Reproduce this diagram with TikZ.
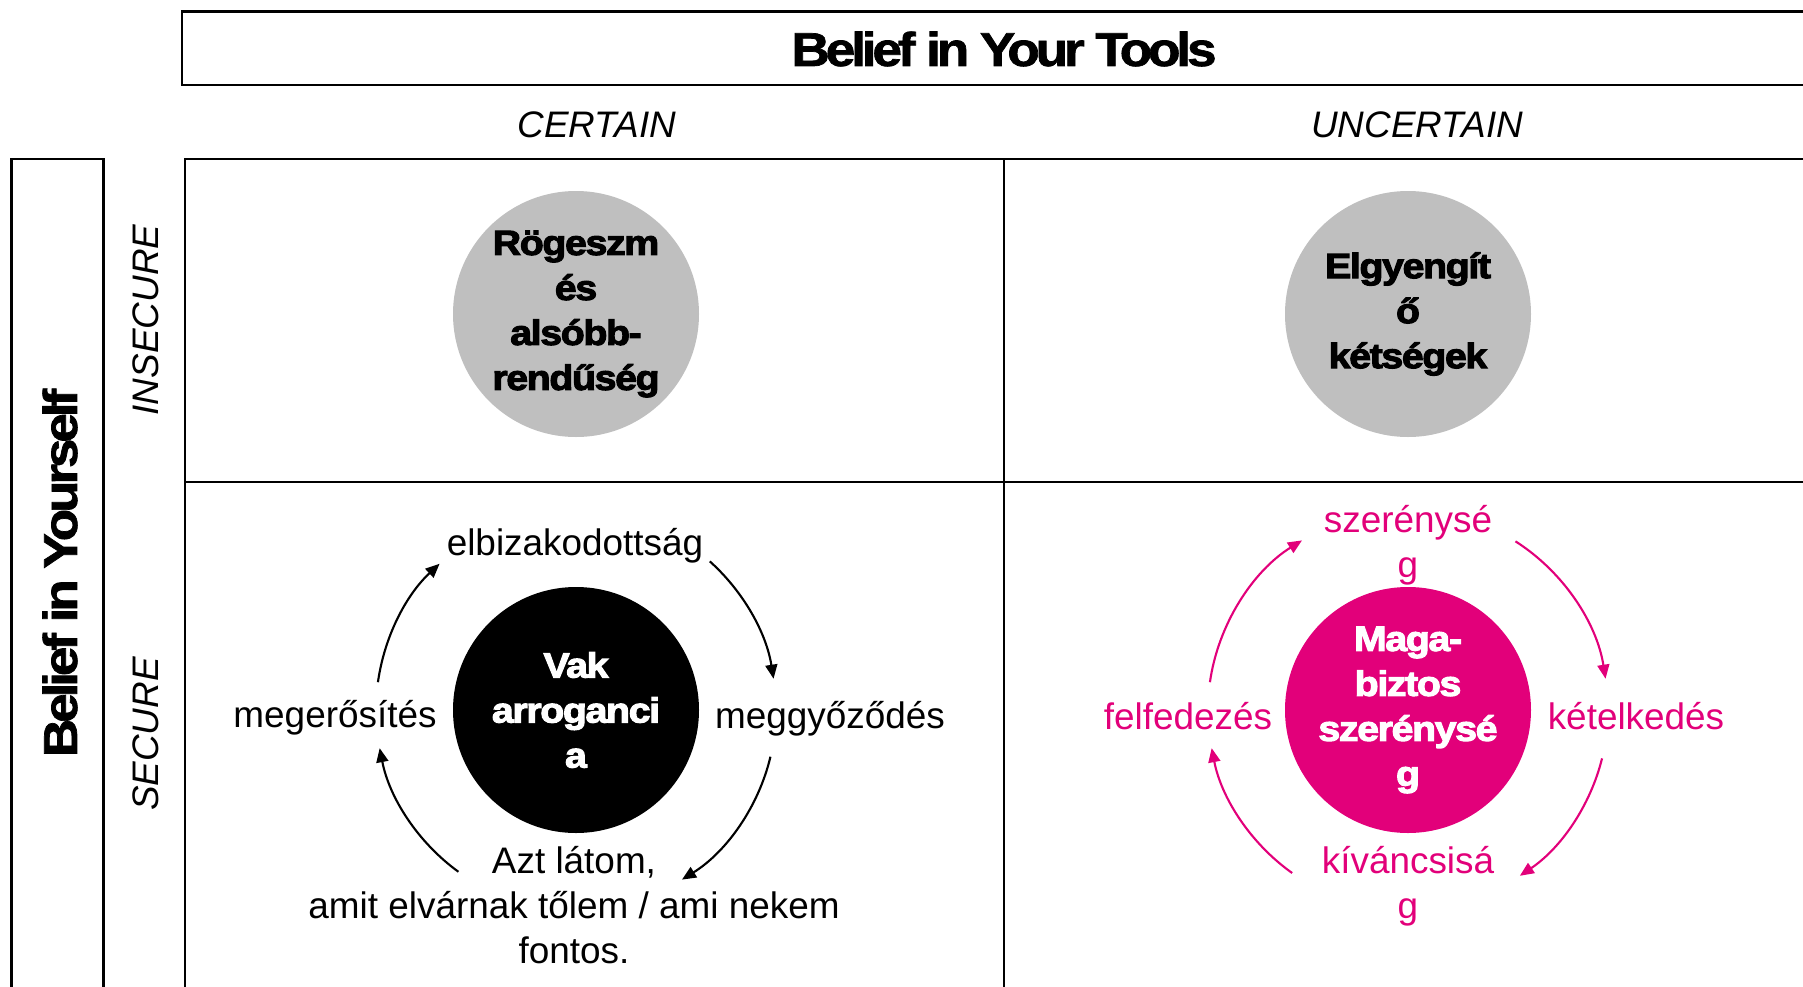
\documentclass[tikz,border=0pt]{standalone}
\usepackage{fontspec}
\setmainfont{Liberation Sans}
\newfontfamily\heavyfont[FakeStretch=1.12,FakeBold=3,LetterSpace=-4]{Liberation Sans Bold}
\newfontfamily\titlefont[FakeStretch=1.12,FakeBold=1.5,LetterSpace=-8.7]{Liberation Sans Bold}
\usetikzlibrary{arrows.meta,calc}
\definecolor{tmagenta}{RGB}{226,0,122}
\definecolor{discgray}{RGB}{191,191,191}

\begin{document}
\begin{tikzpicture}[line width=0.7pt,
    lbl/.style={font=\fontsize{10.5}{12.8}\selectfont,align=center,inner sep=0pt},
    axis/.style={font=\fontsize{10.5}{12.8}\selectfont\itshape,inner sep=0pt},
    head/.style={font=\titlefont\fontsize{13.5}{16}\selectfont,inner sep=0pt},
    disc/.style={circle,minimum size=2.46cm,inner sep=0pt,align=center,font=\heavyfont\fontsize{10}{12.8}\selectfont},
    cyc/.style={-{Triangle[length=4pt,width=3.4pt]},line width=0.6pt,looseness=0.88}]
    \useasboundingbox (0,0) rectangle (18.03,9.86);
    % frames
    \draw (1.82,9.01) rectangle (18.2,9.745);
    \draw (0.115,-0.1) rectangle (1.035,8.27);
    \draw (1.85,-0.1) -- (1.85,8.27) -- (18.2,8.27);
    \draw (10.04,-0.1) -- (10.04,8.27);
    \draw (1.85,5.04) -- (18.2,5.04);
    \node[head] (tools) at (10.04,9.37) {Belief in Your Tools};
    \node[head,rotate=90] (self) at (0.60,4.13) {Belief in Yourself};
    \node[axis] (cert) at (5.97,8.61) {CERTAIN};
    \node[axis] (uncert) at (14.17,8.61) {UNCERTAIN};
    \node[axis,rotate=90] (insec) at (1.46,6.66) {INSECURE};
    \node[axis,rotate=90] (sec) at (1.46,2.52) {SECURE};
    % circles
    \node[disc,fill=discgray] (rog) at (5.76,6.72) {Rögeszm\\és\\alsóbb-\\rendűség};
    \node[disc,fill=discgray] (elgy) at (14.08,6.72) {Elgyengít\\ő\\kétségek};
    \node[disc,fill=black,text=white] (vak) at (5.76,2.76) {Vak\\arroganci\\a};
    \node[disc,fill=tmagenta,text=white] (maga) at (14.08,2.76) {Maga-\\biztos\\szerénysé\\g};
    % left cycle
    \node[lbl] (elbiz) at (5.75,4.40) {elbizakodottság};
    \node[lbl] (meggy) at (8.30,2.67) {meggyőződés};
    \node[lbl] (meger) at (3.35,2.68) {megerősítés};
    \node[lbl] (azt) at (5.74,0.81) {Azt látom,\\amit elvárnak tőlem / ami nekem\\fontos.};
    \foreach \i/\s/\e/\b in {1/172/133/19.5, 2/48/9/19.5, 3/-13.5/-58/22.3, 4/234/191/21.5} {
        \coordinate (va\i) at ($(vak)+(\s:2)$);
        \coordinate (vb\i) at ($(vak)+(\e:2)$);
        \draw[cyc] (va\i) to[bend left=\b] (vb\i);
    }
    % right cycle
    \node[lbl,text=tmagenta] (szer) at (14.08,4.41) {szerénysé\\g};
    \node[lbl,text=tmagenta] (ketel) at (16.36,2.70) {kételkedés};
    \node[lbl,text=tmagenta] (felf) at (11.88,2.70) {felfedezés};
    \node[lbl,text=tmagenta] (kiv) at (14.08,1.00) {kíváncsisá\\g};
    \foreach \i/\s/\e/\b in {1/172/122/25, 2/57.5/9/24.3, 3/-14/-56/21, 4/234.6/191/21.8} {
        \coordinate (ma\i) at ($(maga)+(\s:2)$);
        \coordinate (mb\i) at ($(maga)+(\e:2)$);
        \draw[cyc,tmagenta] (ma\i) to[bend left=\b] (mb\i);
    }
\end{tikzpicture}
\end{document}
